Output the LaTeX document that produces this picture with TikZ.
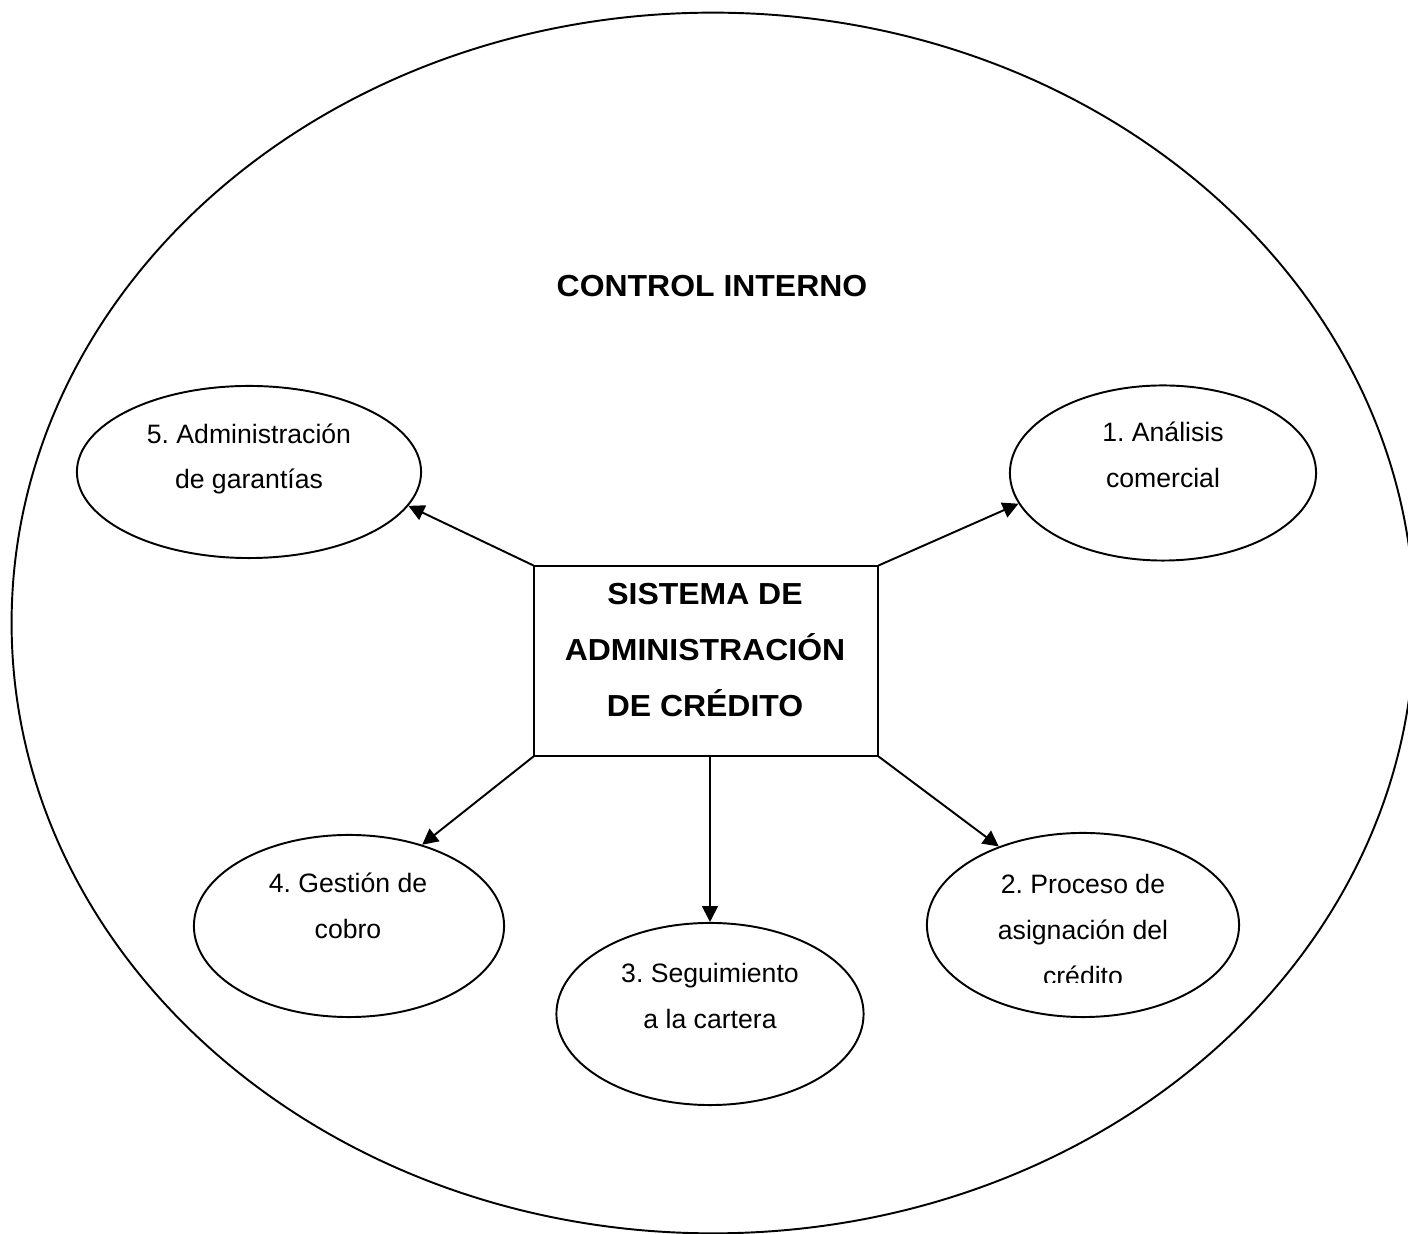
\documentclass[tikz,border=0pt]{standalone}
\usepackage{fontspec}
\setmainfont{Liberation Sans}
\newfontfamily\headfont{Liberation Sans Bold}[FakeStretch=1.05]
\usetikzlibrary{arrows.meta,shapes.geometric}
\frenchspacing

\begin{document}
\begin{tikzpicture}[
  x=0.01cm, y=-0.01cm,
  >={Triangle[length=4.5pt,width=4.5pt]},
  every node/.style={inner sep=0pt},
  blob/.style={ellipse, draw, line width=0.55pt},
  core/.style={rectangle, draw, line width=0.55pt},
  txt/.style={align=center, font=\fontsize{7.57}{13}\selectfont},
  head/.style={align=center, font=\headfont\fontsize{8.65}{15.93}\selectfont},
  link/.style={->, line width=0.55pt}
]
\useasboundingbox (0,0) rectangle (1408,1234);

% ---------- Outer ellipse ----------
\node[blob, minimum width=14.02cm, minimum height=12.2cm] (ctrl) at (713,623) {};
\node[head] (ctrltxt) at (712,286) {CONTROL INTERNO};

% ---------- Central box ----------
\node[core, minimum width=3.43cm, minimum height=1.89cm] (sac) at (706,661) {};
\node[head] (sactxt) at (705,650) {SISTEMA DE\\ADMINISTRACIÓN\\DE CRÉDITO};

% ---------- Process ellipses ----------
\node[blob, minimum width=3.44cm, minimum height=1.72cm] (e5) at (249,472) {};
\node[blob, minimum width=3.06cm, minimum height=1.75cm] (e1) at (1163,473) {};
\node[blob, minimum width=3.10cm, minimum height=1.82cm] (e4) at (349,926) {};
\node[blob, minimum width=3.07cm, minimum height=1.82cm] (e3) at (710,1014) {};
\node[blob, minimum width=3.12cm, minimum height=1.84cm] (e2) at (1083,925) {};

\node[txt] (t5) at (249,459) {5. Administración\\de garantías};
\node[txt] (t1) at (1163,455) {1. Análisis\\comercial};
\node[txt] (t4) at (348,906) {4. Gestión de\\cobro};
\node[txt] (t3) at (710,996) {3. Seguimiento\\a la cartera};
% last line of this one is cut off
\begin{scope}
  \clip (900,800) rectangle (1260,983);
  \node[txt] (t2) at (1083,930) {2. Proceso de\\asignación del\\crédito};
\end{scope}

% ---------- Arrows ----------
\draw[link] (sac.north west) -- (e5.-12);
\draw[link] (sac.north east) -- (e1.192);
\draw[link] (sac.south west) -- (e4.48);
\draw[link] (sac.south -| e3.north) -- (e3.north);
\draw[link] (sac.south east) -- (e2.137);

\end{tikzpicture}
\end{document}
